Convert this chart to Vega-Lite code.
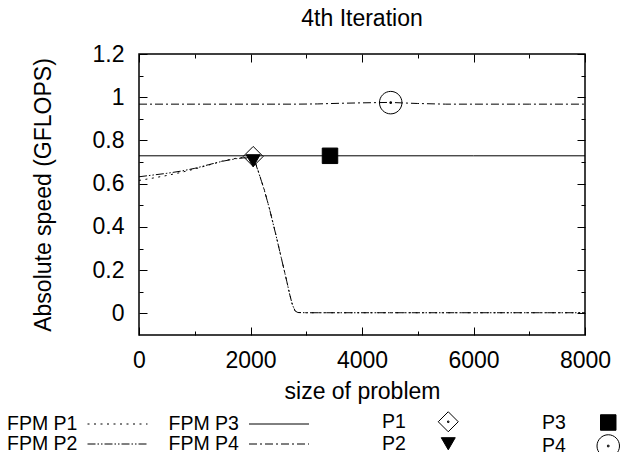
{
  "$schema": "https://vega.github.io/schema/vega-lite/v6.json",
  "width": 446,
  "height": 281,
  "autosize": "none",
  "padding": {"left": 139, "top": 54, "right": 37, "bottom": 117},
  "background": "white",
  "title": {"text": "4th Iteration", "font": "Liberation Sans", "fontSize": 23, "fontWeight": "normal", "color": "black", "anchor": "middle", "offset": 12},
  "config": {
    "view": {"stroke": "black", "strokeWidth": 1.5},
    "axis": {"labelFont": "Liberation Sans", "labelFontSize": 23, "labelColor": "black", "titleFont": "Liberation Sans", "titleFontSize": 23, "titleFontWeight": "normal", "titleColor": "black", "tickColor": "black", "tickWidth": 1, "domain": false, "grid": false},
    "legend": {"labelFont": "Liberation Sans", "labelFontSize": 19.5, "labelColor": "black", "padding": 0, "titlePadding": 0}
  },
  "datasets": {
    "lines": [
      {"series": "FPM P1", "size": 0, "speed": 0.615},
      {"series": "FPM P1", "size": 250, "speed": 0.626},
      {"series": "FPM P1", "size": 500, "speed": 0.638},
      {"series": "FPM P1", "size": 750, "speed": 0.652},
      {"series": "FPM P1", "size": 1000, "speed": 0.668},
      {"series": "FPM P1", "size": 1250, "speed": 0.686},
      {"series": "FPM P1", "size": 1500, "speed": 0.705},
      {"series": "FPM P1", "size": 1750, "speed": 0.718},
      {"series": "FPM P1", "size": 1900, "speed": 0.722},
      {"series": "FPM P1", "size": 2048, "speed": 0.718},
      {"series": "FPM P1", "size": 2100, "speed": 0.69},
      {"series": "FPM P1", "size": 2150, "speed": 0.65},
      {"series": "FPM P1", "size": 2200, "speed": 0.61},
      {"series": "FPM P1", "size": 2250, "speed": 0.57},
      {"series": "FPM P1", "size": 2300, "speed": 0.523},
      {"series": "FPM P1", "size": 2350, "speed": 0.475},
      {"series": "FPM P1", "size": 2400, "speed": 0.422},
      {"series": "FPM P1", "size": 2450, "speed": 0.37},
      {"series": "FPM P1", "size": 2500, "speed": 0.315},
      {"series": "FPM P1", "size": 2550, "speed": 0.26},
      {"series": "FPM P1", "size": 2600, "speed": 0.205},
      {"series": "FPM P1", "size": 2650, "speed": 0.15},
      {"series": "FPM P1", "size": 2700, "speed": 0.092},
      {"series": "FPM P1", "size": 2750, "speed": 0.042},
      {"series": "FPM P1", "size": 2800, "speed": 0.012},
      {"series": "FPM P1", "size": 2850, "speed": 0.004},
      {"series": "FPM P1", "size": 3000, "speed": 0.003},
      {"series": "FPM P1", "size": 4000, "speed": 0.003},
      {"series": "FPM P1", "size": 5000, "speed": 0.003},
      {"series": "FPM P1", "size": 6000, "speed": 0.003},
      {"series": "FPM P1", "size": 7000, "speed": 0.003},
      {"series": "FPM P1", "size": 8000, "speed": 0.003},
      {"series": "FPM P2", "size": 0, "speed": 0.632},
      {"series": "FPM P2", "size": 250, "speed": 0.64},
      {"series": "FPM P2", "size": 500, "speed": 0.648},
      {"series": "FPM P2", "size": 750, "speed": 0.658},
      {"series": "FPM P2", "size": 1000, "speed": 0.671},
      {"series": "FPM P2", "size": 1250, "speed": 0.688},
      {"series": "FPM P2", "size": 1500, "speed": 0.704},
      {"series": "FPM P2", "size": 1750, "speed": 0.716},
      {"series": "FPM P2", "size": 1900, "speed": 0.72},
      {"series": "FPM P2", "size": 2048, "speed": 0.712},
      {"series": "FPM P2", "size": 2100, "speed": 0.686},
      {"series": "FPM P2", "size": 2150, "speed": 0.648},
      {"series": "FPM P2", "size": 2200, "speed": 0.609},
      {"series": "FPM P2", "size": 2250, "speed": 0.568},
      {"series": "FPM P2", "size": 2300, "speed": 0.522},
      {"series": "FPM P2", "size": 2350, "speed": 0.474},
      {"series": "FPM P2", "size": 2400, "speed": 0.421},
      {"series": "FPM P2", "size": 2450, "speed": 0.369},
      {"series": "FPM P2", "size": 2500, "speed": 0.314},
      {"series": "FPM P2", "size": 2550, "speed": 0.259},
      {"series": "FPM P2", "size": 2600, "speed": 0.204},
      {"series": "FPM P2", "size": 2650, "speed": 0.149},
      {"series": "FPM P2", "size": 2700, "speed": 0.091},
      {"series": "FPM P2", "size": 2750, "speed": 0.041},
      {"series": "FPM P2", "size": 2800, "speed": 0.011},
      {"series": "FPM P2", "size": 2850, "speed": 0.004},
      {"series": "FPM P2", "size": 3000, "speed": 0.003},
      {"series": "FPM P2", "size": 4000, "speed": 0.003},
      {"series": "FPM P2", "size": 5000, "speed": 0.003},
      {"series": "FPM P2", "size": 6000, "speed": 0.003},
      {"series": "FPM P2", "size": 7000, "speed": 0.003},
      {"series": "FPM P2", "size": 8000, "speed": 0.003},
      {"series": "FPM P3", "size": 0, "speed": 0.729},
      {"series": "FPM P3", "size": 2000, "speed": 0.729},
      {"series": "FPM P3", "size": 4000, "speed": 0.729},
      {"series": "FPM P3", "size": 6000, "speed": 0.729},
      {"series": "FPM P3", "size": 8000, "speed": 0.729},
      {"series": "FPM P4", "size": 0, "speed": 0.968},
      {"series": "FPM P4", "size": 1000, "speed": 0.968},
      {"series": "FPM P4", "size": 2000, "speed": 0.968},
      {"series": "FPM P4", "size": 2800, "speed": 0.968},
      {"series": "FPM P4", "size": 3200, "speed": 0.969},
      {"series": "FPM P4", "size": 3600, "speed": 0.972},
      {"series": "FPM P4", "size": 4000, "speed": 0.974},
      {"series": "FPM P4", "size": 4500, "speed": 0.976},
      {"series": "FPM P4", "size": 5000, "speed": 0.971},
      {"series": "FPM P4", "size": 5500, "speed": 0.968},
      {"series": "FPM P4", "size": 6000, "speed": 0.968},
      {"series": "FPM P4", "size": 7000, "speed": 0.968},
      {"series": "FPM P4", "size": 8000, "speed": 0.968}
    ],
    "points": [
      {"proc": "P1", "size": 2048, "speed": 0.726},
      {"proc": "P2", "size": 2048, "speed": 0.706},
      {"proc": "P3", "size": 3426, "speed": 0.729},
      {"proc": "P4", "size": 4515, "speed": 0.975}
    ]
  },
  "layer": [
    {
      "data": {"name": "lines"},
      "mark": {"type": "line", "color": "black", "strokeWidth": 1, "clip": true},
      "encoding": {
        "x": {"field": "size", "type": "quantitative", "scale": {"domain": [0, 8000], "nice": false, "zero": false},
          "axis": {"orient": "bottom", "title": "size of problem", "values": [0, 1000, 2000, 3000, 4000, 5000, 6000, 7000, 8000], "format": "d",
            "labelExpr": "datum.value % 2000 === 0 ? datum.label : ''",
            "tickSize": {"condition": {"test": "datum.value % 2000 === 0", "value": -8}, "value": -4},
            "labelPadding": 40, "labelBaseline": "alphabetic", "labelAlign": "center", "labelFlush": false, "labelOverlap": false,
            "titleY": 63.5, "titleBaseline": "alphabetic", "titleX": 223}},
        "y": {"field": "speed", "type": "quantitative", "scale": {"domain": [-0.1, 1.2], "nice": false, "zero": false},
          "axis": {"orient": "left", "title": "Absolute speed (GFLOPS)", "values": [0, 0.1, 0.2, 0.3, 0.4, 0.5, 0.6, 0.7, 0.8, 0.9, 1, 1.1, 1.2], "format": "~g",
            "labelExpr": "abs(datum.value*5 - round(datum.value*5)) < 0.001 ? datum.label : ''",
            "tickSize": {"condition": {"test": "abs(datum.value*5 - round(datum.value*5)) < 0.001", "value": -8}, "value": -4},
            "labelPadding": 23, "labelBaseline": "middle", "labelFlush": false, "labelOverlap": false,
            "titleX": -96, "titleY": 140.5, "titleAngle": 270, "titleBaseline": "middle", "titleAlign": "center"}},
        "strokeDash": {"field": "series", "type": "nominal",
          "scale": {"domain": ["FPM P1", "FPM P2", "FPM P3", "FPM P4"], "range": [[2, 4.5], [8, 2, 1.5, 2, 1.5, 2], [1, 0], [8, 3, 2, 3]]},
          "legend": {"orient": "none", "legendX": -133, "legendY": 359.5, "title": null, "columns": 2, "columnPadding": 17.5, "rowPadding": -1,
            "symbolType": "M-3,0H3", "symbolSize": 400, "symbolStrokeWidth": 1, "symbolStrokeColor": "black", "symbolFillColor": "transparent",
            "labelOffset": -121, "symbolOffset": 101, "labelBaseline": "middle"}}
      }
    },
    {
      "data": {"name": "points"},
      "mark": {"type": "point", "filled": true, "stroke": "black", "strokeWidth": 1, "opacity": 1},
      "encoding": {
        "x": {"field": "size", "type": "quantitative", "scale": {"domain": [0, 8000], "nice": false, "zero": false},
          "axis": {"orient": "top", "title": null, "values": [0, 1000, 2000, 3000, 4000, 5000, 6000, 7000, 8000], "labels": false,
            "tickSize": {"condition": {"test": "datum.value % 2000 === 0", "value": -8}, "value": -4}}},
        "y": {"field": "speed", "type": "quantitative", "scale": {"domain": [-0.1, 1.2], "nice": false, "zero": false},
          "axis": {"orient": "right", "title": null, "values": [0, 0.1, 0.2, 0.3, 0.4, 0.5, 0.6, 0.7, 0.8, 0.9, 1, 1.1, 1.2], "labels": false,
            "tickSize": {"condition": {"test": "abs(datum.value*5 - round(datum.value*5)) < 0.001", "value": -8}, "value": -4}}},
        "shape": {"field": "proc", "type": "nominal",
          "scale": {"domain": ["P1", "P2", "P3", "P4"], "range": ["M-1,0L0,-1L1,0L0,1Z M-0.07,-0.07H0.07V0.07H-0.07Z", "triangle-down", "square", "M1,0C1,0.5523 0.5523,1 0,1C-0.5523,1 -1,0.5523 -1,0C-1,-0.5523 -0.5523,-1 0,-1C0.5523,-1 1,-0.5523 1,0Z M-0.07,-0.07H0.07V0.07H-0.07Z"]},
          "legend": {"orient": "none", "legendX": 241.5, "legendY": 357, "title": null, "columns": 2, "columnPadding": 80, "rowPadding": -4, "gridAlign": "each",
            "symbolStrokeColor": "black", "symbolStrokeWidth": 1, "symbolOpacity": 1,
            "labelOffset": -78.25, "symbolOffset": 55.75, "labelBaseline": "middle"}},
        "size": {"field": "proc", "type": "nominal", "scale": {"type": "ordinal", "domain": ["P1", "P2", "P3", "P4"], "range": [400, 196, 240, 506]}},
        "fill": {"field": "proc", "type": "nominal", "scale": {"domain": ["P1", "P2", "P3", "P4"], "range": ["transparent", "black", "black", "transparent"]}}
      }
    }
  ],
  "resolve": {"axis": {"x": "independent", "y": "independent"}}
}
